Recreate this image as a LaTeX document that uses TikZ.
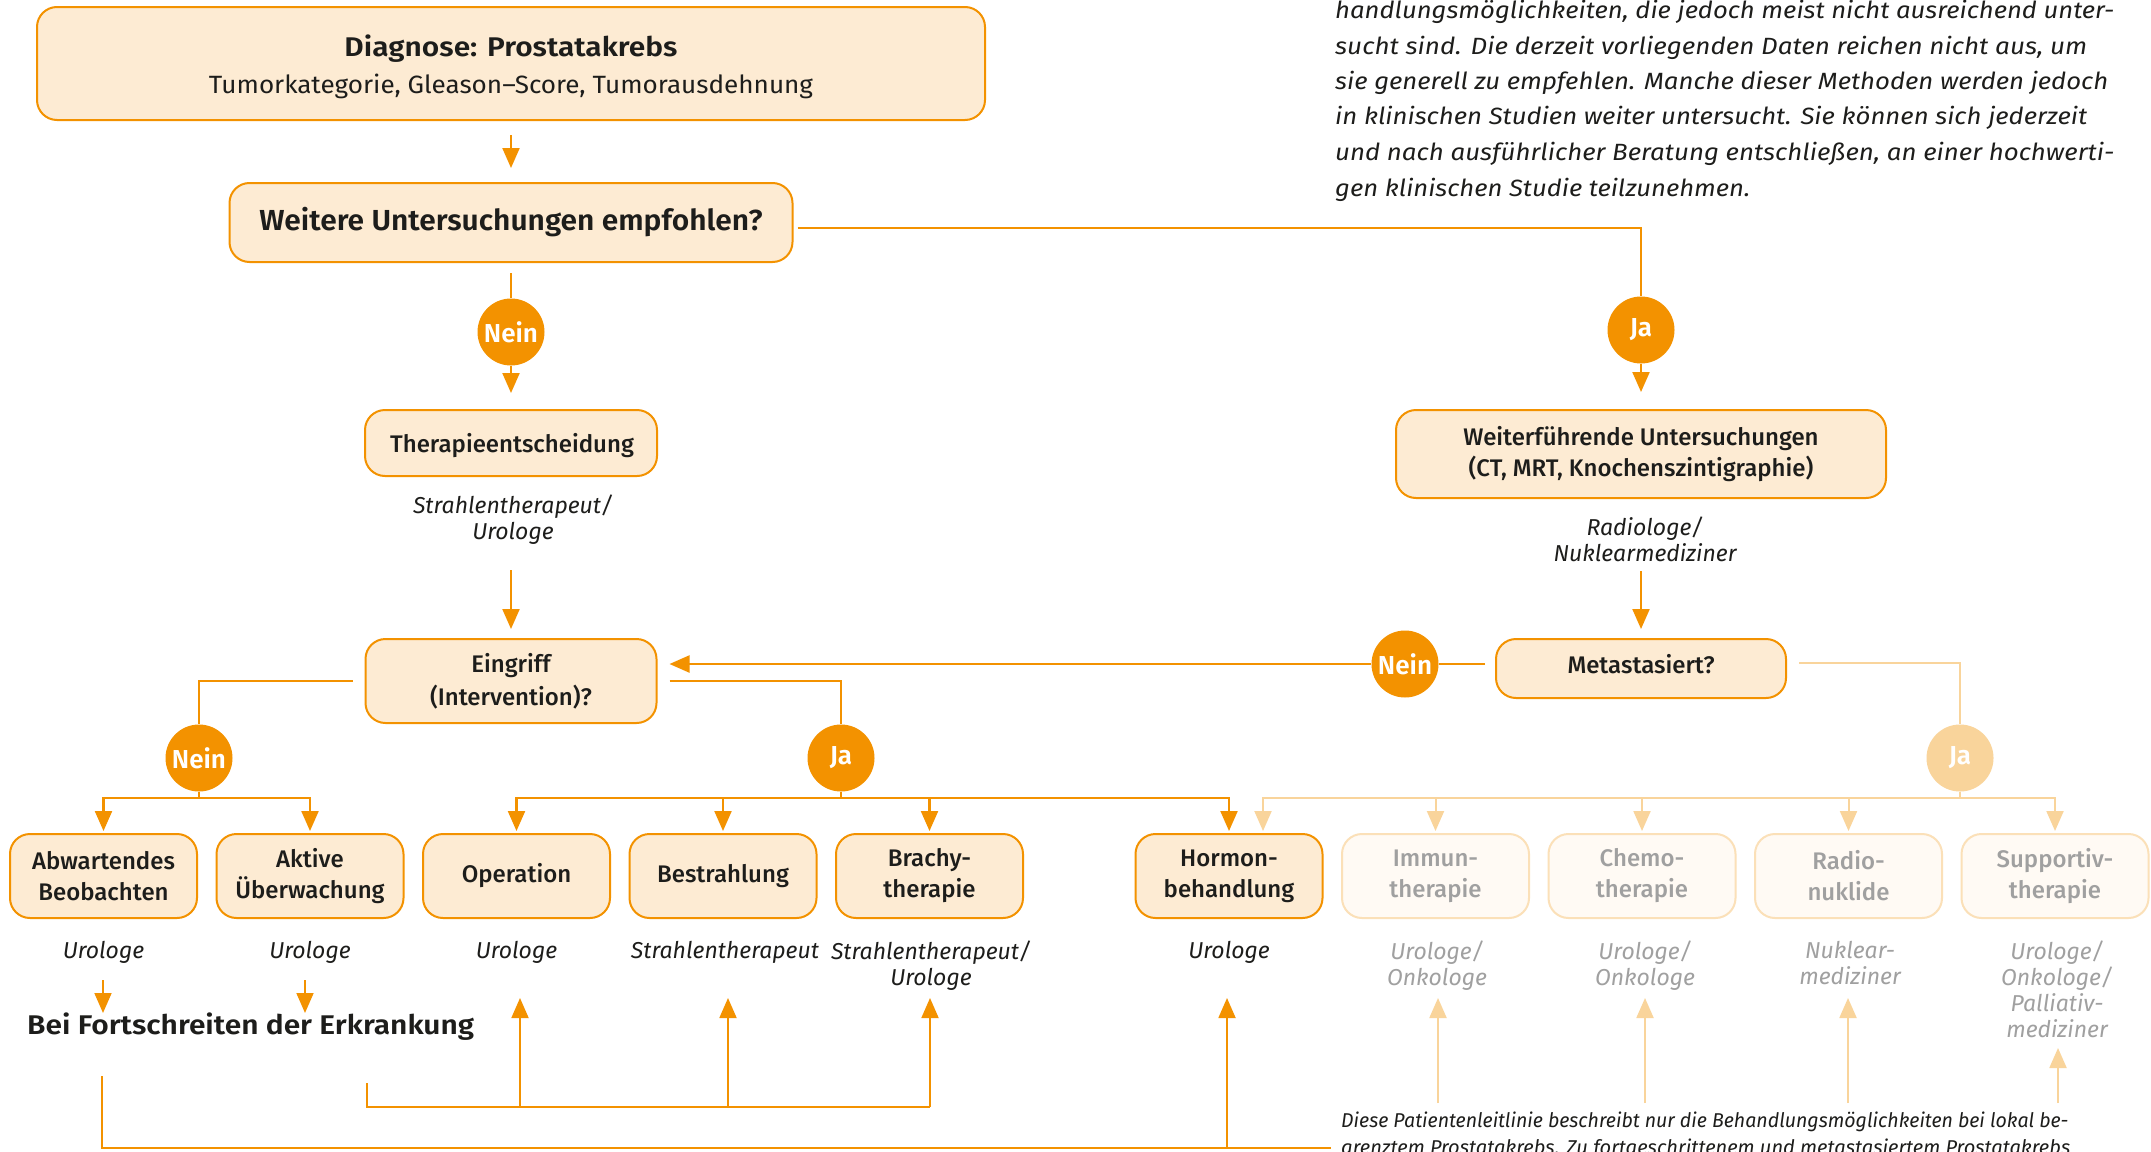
\documentclass[tikz,border=0pt]{standalone}
\usepackage{fontspec}
\usepackage{graphicx}
\setmainfont{Fira Sans}
\IfFontExistsTF{Fira Sans Medium}{\newfontfamily\medf{Fira Sans Medium}}{\newfontfamily\medf{Fira Sans}}
\IfFontExistsTF{Fira Sans SemiBold}{\newfontfamily\semif{Fira Sans SemiBold}}{\newfontfamily\semif{Fira Sans}[UprightFont=*-Bold]}
\usetikzlibrary{arrows.meta,calc}
\definecolor{orng}{HTML}{F39200}
\definecolor{peach}{HTML}{FDEBD3}
\definecolor{lorng}{HTML}{F9D49B}
\definecolor{lpeach}{HTML}{FFFAF4}
\definecolor{lborder}{HTML}{FBE0B8}
\definecolor{gtext}{HTML}{A0A0A0}
\definecolor{dtext}{HTML}{1D1D1B}
\newcommand\fsz[2]{\fontsize{#1}{#2}\selectfont}
\newcommand\fitw[2]{\resizebox{#1}{\height}{#2}}
\begin{document}
\begin{tikzpicture}[x=1pt,y=-1pt,
 line/.style={draw=orng, line width=2.2pt},
 thinline/.style={draw=orng, line width=1.8pt},
 arr/.style={line, -{Triangle[length=20pt,width=17pt]}},
 tarr/.style={thinline, -{Triangle[length=20pt,width=17pt]}},
 lline/.style={draw=lorng, line width=2pt},
 larr/.style={lline, -{Triangle[length=20pt,width=17pt]}},
 box/.style={draw=orng, fill=peach, line width=2pt, rounded corners=20pt, align=center, inner sep=0pt, text=dtext, font=\medf\fsz{24}{31}},
 sbox/.style={box, minimum width=187pt, minimum height=84pt},
 lbox/.style={sbox, draw=lborder, fill=lpeach, text=gtext},
 circ/.style={circle, fill=orng, minimum size=67pt, inner sep=0pt, text=white, font=\semif\fsz{26}{26}},
 lcirc/.style={circ, fill=lorng},
 lab/.style={align=center, inner sep=0pt, anchor=north, font=\itshape\fsz{23}{26}, text=dtext},
 llab/.style={lab, text=gtext},
 btext/.style={inner sep=0pt, text=dtext},
 para/.style={anchor=base west, inner sep=0pt, font=\itshape\fsz{23.5}{28}, text=dtext},
 foot/.style={anchor=base west, inner sep=0pt, font=\itshape\fsz{20}{24}, text=dtext},
]
\fill[white] (0,0) rectangle (2151,1151);
\useasboundingbox (0,0) rectangle (2151,1151);

% top paragraph
\node[para] (p1) at (1335,19) {\fitw{779pt}{handlungsmöglichkeiten, die jedoch meist nicht ausreichend unter-}};
\node[para] (p2) at (1335,54) {\fitw{752pt}{sucht sind. Die derzeit vorliegenden Daten reichen nicht aus, um}};
\node[para] (p3) at (1335,89) {\fitw{773pt}{sie generell zu empfehlen. Manche dieser Methoden werden jedoch}};
\node[para] (p4) at (1335,124) {\fitw{752pt}{in klinischen Studien weiter untersucht. Sie können sich jederzeit}};
\node[para] (p5) at (1335,160) {\fitw{779pt}{und nach ausführlicher Beratung entschließen, an einer hochwerti-}};
\node[para] (p6) at (1335,196) {\fitw{415pt}{gen klinischen Studie teilzunehmen.}};

% footnote
\node[foot] (f1) at (1341,1127) {\fitw{727pt}{Diese Patientenleitlinie beschreibt nur die Behandlungsmöglichkeiten bei lokal be-}};
\node[foot] (f2) at (1341,1154) {\fitw{729pt}{grenztem Prostatakrebs. Zu fortgeschrittenem und metastasiertem Prostatakrebs}};

% main boxes
\node[box, minimum width=948pt, minimum height=113pt] (diag) at (511,63.5) {};
\node[btext, font=\semif\fsz{27}{27}] (diagT) at (511,49) {\fitw{333pt}{Diagnose: Prostatakrebs}};
\node[btext, font=\fsz{25}{25}] (diagS) at (511,86) {\fitw{604pt}{Tumorkategorie, Gleason–Score, Tumorausdehnung}};

\node[box, minimum width=563pt, minimum height=79pt, font=\semif\fsz{29}{29}] (weitere) at (511,222.5) {\fitw{503pt}{Weitere Untersuchungen empfohlen?}};
\node[circ] (nein1) at (511,332) {Nein};
\node[circ] (ja1) at (1641,330) {Ja};

\node[box, minimum width=292pt, minimum height=66pt] (ther) at (511,443) {};
\node[btext, font=\medf\fsz{24}{24}] (therT) at (512,446) {Therapieentscheidung};
\node[lab] (labTher) at (513,495) {Strahlentherapeut/\\Urologe};

\node[box, minimum width=490pt, minimum height=88pt] (wf) at (1641,454) {Weiterführende Untersuchungen\\(CT, MRT, Knochenszintigraphie)};
\node[lab] (labWf) at (1645,517) {Radiologe/\\Nuklearmediziner};

\node[box, minimum width=291pt, minimum height=84pt, font=\medf\fsz{24}{33}] (eing) at (511,681) {Eingriff\\(Intervention)?};
\node[box, minimum width=290pt, minimum height=59pt] (meta) at (1641,668.5) {};
\node[btext, font=\medf\fsz{24}{24}] (metaT) at (1641,664.5) {Metastasiert?};

\node[circ] (neinM) at (1405,664) {Nein};
\node[circ] (neinE) at (199,758) {Nein};
\node[circ] (jaE) at (841,758) {Ja};
\node[lcirc] (jaM) at (1960,758) {Ja};

% treatment boxes
\node[sbox] (abw) at (103.5,876) {Abwartendes\\Beobachten};
\node[sbox] (akt) at (310,876) {Aktive\\Überwachung};
\node[sbox] (op) at (516.5,876) {\strut Operation};
\node[sbox] (best) at (723,876) {\strut Bestrahlung};
\node[sbox] (brachy) at (929.5,876) {Brachy-\\therapie};
\node[sbox] (hormon) at (1229,876) {Hormon-\\behandlung};
\node[lbox] (immun) at (1435.5,876) {Immun-\\therapie};
\node[lbox] (chemo) at (1642,876) {Chemo-\\therapie};
\node[lbox] (radio) at (1848.5,876) {Radio-\\nuklide};
\node[lbox] (supp) at (2055,876) {Supportiv-\\therapie};

% labels under boxes
\node[lab] (labAbw) at (103.5,941) {Urologe};
\node[lab] (labAkt) at (310,941) {Urologe};
\node[lab] (labOp) at (516.5,941) {Urologe};
\node[lab] (labBest) at (725,941) {Strahlentherapeut};
\node[lab] (labBrachy) at (931,941) {Strahlentherapeut/\\Urologe};
\node[lab] (labHorm) at (1229,941) {Urologe};
\node[llab] (labImm) at (1437,941) {Urologe/\\Onkologe};
\node[llab] (labChemo) at (1645,941) {Urologe/\\Onkologe};
\node[llab] (labRadio) at (1850,941) {Nuklear-\\mediziner};
\node[llab] (labSupp) at (2057,941) {Urologe/\\Onkologe/\\Palliativ-\\mediziner};

\node[btext, font=\semif\fsz{27}{27}, anchor=west] (fort) at (27,1027) {\fitw{447pt}{Bei Fortschreiten der Erkrankung}};

% connectors (top part)
\draw[arr, shorten <=14pt, shorten >=14pt] (diag) -- (weitere);
\draw[line, shorten <=10pt] (weitere) -- (nein1);
\draw[arr, shorten >=16pt] (nein1) -- (ther);
\draw[line, shorten <=4pt] ([yshift=-5.5pt]weitere.east) -| (ja1.north);
\draw[arr, shorten >=17pt] (ja1) -- (wf);

\coordinate (thArrS) at (511,570);
\draw[arr, shorten >=9pt] (thArrS) -- (eing.north);
\coordinate (wfArrS) at (1641,571);
\draw[arr, shorten >=9pt] (wfArrS) -- (meta.north);

\draw[line, shorten <=10pt] (meta.west |- neinM) -- (neinM);
\draw[arr, shorten >=12pt] (neinM) -- (eing.east |- neinM);
\draw[lline, shorten <=12pt] ([yshift=5.5pt]meta.east) -| (jaM.north);

\draw[line, shorten <=12pt] (eing.west) -| (neinE.north);
\draw[line, shorten <=12pt] (eing.east) -| (jaE.north);

% distribution buses
\coordinate (busN) at (199,798);
\draw[line] (neinE.south) -- (busN);
\draw[arr, shorten >=2pt] (busN) -| (abw.north);
\draw[arr, shorten >=2pt] (busN) -| (akt.north);

\coordinate (busJ) at (841,798);
\draw[line] (jaE.south) -- (busJ);
\draw[arr, shorten >=2pt] (busJ) -| (op.north);
\draw[arr, shorten >=2pt] (busJ) -| (best.north);
\draw[arr, shorten >=2pt] (busJ) -| (brachy.north);
\draw[arr, shorten >=2pt] (busJ) -| (hormon.north);

\coordinate (busM) at (1960,798);
\draw[lline] (jaM.south) -- (busM);
\draw[larr, shorten >=2pt] (busM) -| ([xshift=34pt]hormon.north);
\draw[larr, shorten >=2pt] (busM) -| (immun.north);
\draw[larr, shorten >=2pt] (busM) -| (chemo.north);
\draw[larr, shorten >=2pt] (busM) -| (radio.north);
\draw[larr, shorten >=2pt] (busM) -| (supp.north);

% progression arrows
\coordinate (aAbw) at (103,980);
\coordinate (aAkt) at (305,980);
\draw[tarr] (aAbw) -- (aAbw |- fort.north);
\draw[tarr] (aAkt) -- (aAkt |- fort.north);

\coordinate (brS) at (367,1083);
\coordinate (brE) at (930,1107);
\draw[thinline] (brS) |- (brE);
\coordinate (tOp) at (520,998);
\coordinate (tBest) at (728,998);
\coordinate (tBr) at (930,998);
\draw[tarr] (tOp |- brE) -- (tOp);
\draw[tarr] (tBest |- brE) -- (tBest);
\draw[tarr] (tBr |- brE) -- (tBr);

\coordinate (bS) at (102,1076);
\coordinate (bE) at (1331,1148);
\draw[line] (bS) |- (bE);
\coordinate (tHorm) at (1227,998);
\draw[tarr] (tHorm |- bE) -- (tHorm);

\coordinate (lb) at (0,1103);
\coordinate (lImm) at (1438,998);
\coordinate (lChemo) at (1645,998);
\coordinate (lRadio) at (1848,998);
\coordinate (lSupp) at (2058,1048);
\draw[larr] (lImm |- lb) -- (lImm);
\draw[larr] (lChemo |- lb) -- (lChemo);
\draw[larr] (lRadio |- lb) -- (lRadio);
\draw[larr] (lSupp |- lb) -- (lSupp);
\end{tikzpicture}
\end{document}
